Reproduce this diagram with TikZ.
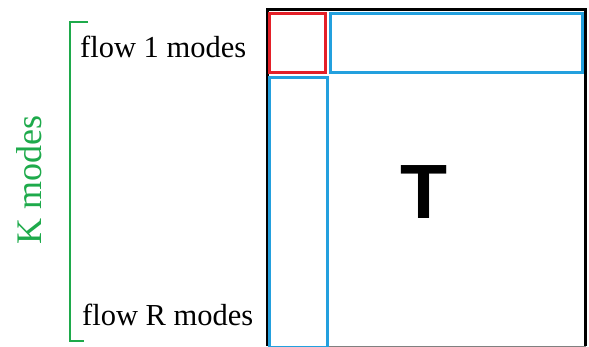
\documentclass[tikz,border=0pt]{standalone}
\usepackage{fontspec}
\setmainfont{Liberation Serif}
\newfontfamily\tfont{Liberation Sans}
\usepackage{xcolor}
\definecolor{kgreen}{RGB}{30,170,75}
\definecolor{bandred}{RGB}{228,32,40}
\definecolor{bandblue}{RGB}{35,160,222}

\begin{document}
\begin{tikzpicture}[x=1pt,y=-1pt,
    label/.style={inner sep=0pt, font=\fontsize{30.5}{36}\selectfont},
    band/.style={line width=3pt, draw=bandblue}]
    \useasboundingbox (0,0) rectangle (589,347);

    % outer matrix
    \draw[line width=3.2pt] (267.5,346) -- (267.5,9.5) -- (585.5,9.5) -- (585.5,346);
    \draw[gray, line width=1pt] (267.5,346) -- (585.5,346);

    % blocks
    \draw[band] (330.5,13.5) rectangle (582,73);
    \draw[band] (269.5,78) rectangle (327.5,347);
    \draw[line width=3pt, draw=bandred] (269.5,13.5) rectangle (325,73);

    % bracket
    \coordinate (brtop) at (88,22);
    \coordinate (brbot) at (84,341);
    \draw[kgreen, line width=2.5pt] (brtop) -| (70,341) -- (brbot);

    \node[label, anchor=base west] (flowone) at (80,58) {flow 1 modes};
    \node[label, anchor=base west] (flowr) at (82,326) {flow R modes};
    \node[label, kgreen, rotate=90, anchor=base, font=\fontsize{36}{40}\selectfont] (kmodes) at (41,180) {K modes};
    \node[inner sep=0pt, anchor=base, font=\tfont\bfseries\fontsize{77}{80}\selectfont] (tblock) at (424,219) {T};
\end{tikzpicture}
\end{document}
